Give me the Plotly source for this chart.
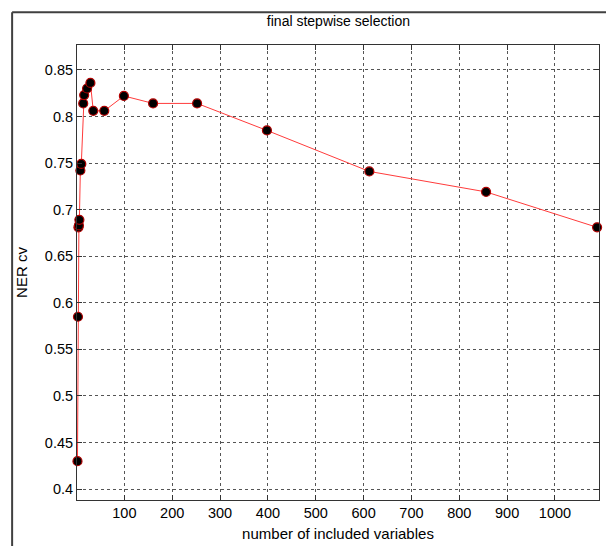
import plotly.graph_objects as go

n_vars = [2, 3, 4, 5, 6, 8, 10, 14, 16, 22, 29, 35, 58, 99, 160, 252, 398, 612, 856, 1088]
ner_cv = [0.430, 0.585, 0.681, 0.683, 0.689, 0.742, 0.749, 0.814, 0.823, 0.830, 0.836,
          0.806, 0.806, 0.822, 0.814, 0.814, 0.785, 0.741, 0.719, 0.681]
x_ticks = [100, 200, 300, 400, 500, 600, 700, 800, 900, 1000]
y_ticks = [0.4, 0.45, 0.5, 0.55, 0.6, 0.65, 0.7, 0.75, 0.8, 0.85]

FONT = "Liberation Sans, Arial, sans-serif"

fig = go.Figure()
fig.add_trace(go.Scatter(
    x=n_vars, y=ner_cv, mode="lines+markers",
    line=dict(color="#ff3b3b", width=1),
    marker=dict(size=9, color="black", line=dict(color="#b00000", width=1.2)),
    showlegend=False, cliponaxis=False,
))

axis_common = dict(
    showline=True, linecolor="#333333", linewidth=1, mirror="ticks",
    ticks="inside", ticklen=5, tickcolor="#333333", tickwidth=1,
    showgrid=True, gridcolor="#555555", gridwidth=1, griddash="dot",
    zeroline=False, tickfont=dict(family=FONT, size=14.5, color="black"),
)

fig.update_layout(
    width=606, height=546,
    margin=dict(l=77, r=6, t=45, b=43),
    paper_bgcolor="white", plot_bgcolor="white",
    title=dict(text="final stepwise selection", x=0.5585, xanchor="center",
               y=1 - 21 / 546, yanchor="middle",
               font=dict(family=FONT, size=14, color="black")),
    xaxis=dict(range=[1, 1092], tickvals=x_ticks, ticktext=[str(v) for v in x_ticks],
               title=dict(text="number of included variables", standoff=8,
                          font=dict(family=FONT, size=15, color="black")),
               **axis_common),
    yaxis=dict(range=[0.3883, 0.8767], tickvals=y_ticks,
               ticktext=[f"{v:g}" for v in y_ticks],
               title=dict(text="NER cv", standoff=13,
                          font=dict(family=FONT, size=15, color="black")),
               **axis_common),
    shapes=[
        dict(type="line", xref="paper", yref="paper",
             x0=-65 / 523, x1=1.02, y0=1 + 33 / 458, y1=1 + 33 / 458,
             line=dict(color="#404040", width=2)),
        dict(type="line", xref="paper", yref="paper",
             x0=-65 / 523, x1=-65 / 523, y0=1 + 33 / 458, y1=-0.2,
             line=dict(color="#404040", width=2)),
    ],
)

fig.write_html("out.html", config={"displayModeBar": False},
               post_script="document.body.style.margin='0';document.body.style.overflow='hidden';")
